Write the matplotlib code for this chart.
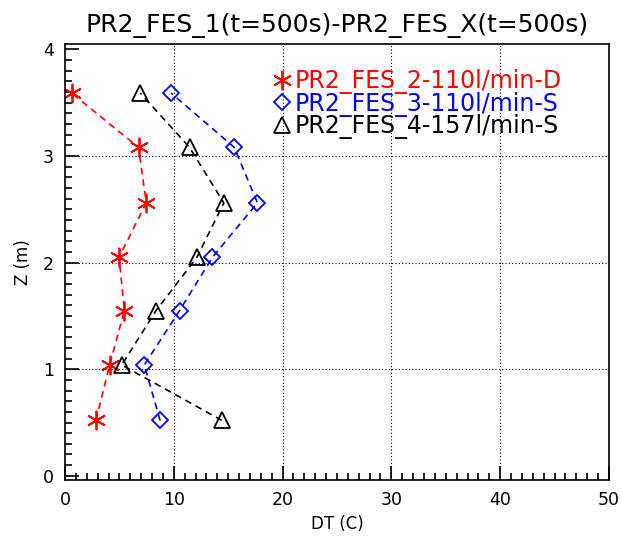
import matplotlib
matplotlib.use("Agg")
import matplotlib.pyplot as plt
from matplotlib.ticker import MultipleLocator

# heights (m) and temperature differences (C)
z = [0.52, 1.04, 1.55, 2.05, 2.56, 3.08, 3.59]
dt_fes2 = [2.84, 4.11, 5.46, 4.97, 7.47, 6.76, 0.62]
dt_fes3 = [8.74, 7.29, 10.53, 13.55, 17.69, 15.56, 9.76]
dt_fes4 = [14.42, 5.22, 8.37, 12.13, 14.60, 11.45, 6.92]
labels = ["PR2_FES_2-110l/min-D", "PR2_FES_3-110l/min-S", "PR2_FES_4-157l/min-S"]
colors = ["#ff0000", "#0000ff", "#000000"]

plt.rcParams['font.family'] = ['DejaVu Sans']

fig = plt.figure(figsize=(6.22, 5.37), dpi=100)
ax = fig.add_axes([0.1045, 0.106, 0.8745, 0.812])

series = [dt_fes2, dt_fes3, dt_fes4]
markers = [(6, 2, 0), 'D', '^']
sizes = [14, 8, 12]
handles = []
for vals, lab, col, mk, ms in zip(series, labels, colors, markers, sizes):
    h, = ax.plot(vals, z, linestyle=(0, (4, 3)), color=col, lw=1.2,
                 marker=mk, ms=ms, mfc='none', mec=col, mew=1.3, label=lab)
    handles.append(h)

ax.set_xlim(0, 50)
ax.set_ylim(-0.04, 4.05)
ax.xaxis.set_major_locator(MultipleLocator(10))
ax.xaxis.set_minor_locator(MultipleLocator(1))
ax.yaxis.set_major_locator(MultipleLocator(1))
ax.yaxis.set_minor_locator(MultipleLocator(0.1))
ax.tick_params(which='both', direction='in', top=False, right=False, width=1.2, labelsize=12.5)
ax.tick_params(which='major', length=10, pad=8)
ax.tick_params(which='minor', length=5)

# dotted grid on interior lines only
for gx in [10, 20, 30, 40]:
    ax.axvline(gx, color='black', lw=0.8, ls=(0, (1, 2)))
for gy in [1, 2, 3]:
    ax.axhline(gy, color='black', lw=0.8, ls=(0, (1, 2)))

for sp in ax.spines.values():
    sp.set_linewidth(1.2)

ax.set_xlabel("DT (C)", fontsize=12, labelpad=4)
ax.set_ylabel("Z (m)", fontsize=12, labelpad=8)
ax.set_title("PR2_FES_1(t=500s)-PR2_FES_X(t=500s)", fontsize=18, pad=9)

leg_handles = []
for h, col, mk, ms in zip(handles, colors, markers, sizes):
    lh, = ax.plot([], [], ls='none', marker=mk, ms=ms, mfc='none', mec=col, mew=1.3)
    leg_handles.append(lh)
leg = ax.legend(leg_handles, labels, loc='upper left', bbox_to_anchor=(0.386, 0.943),
                frameon=False, handlelength=0.6, handletextpad=0.25, labelspacing=-0.1,
                fontsize=17, borderaxespad=0, borderpad=0)
for txt, col in zip(leg.get_texts(), colors):
    txt.set_color(col)

fig.savefig("out.png", dpi=100)
